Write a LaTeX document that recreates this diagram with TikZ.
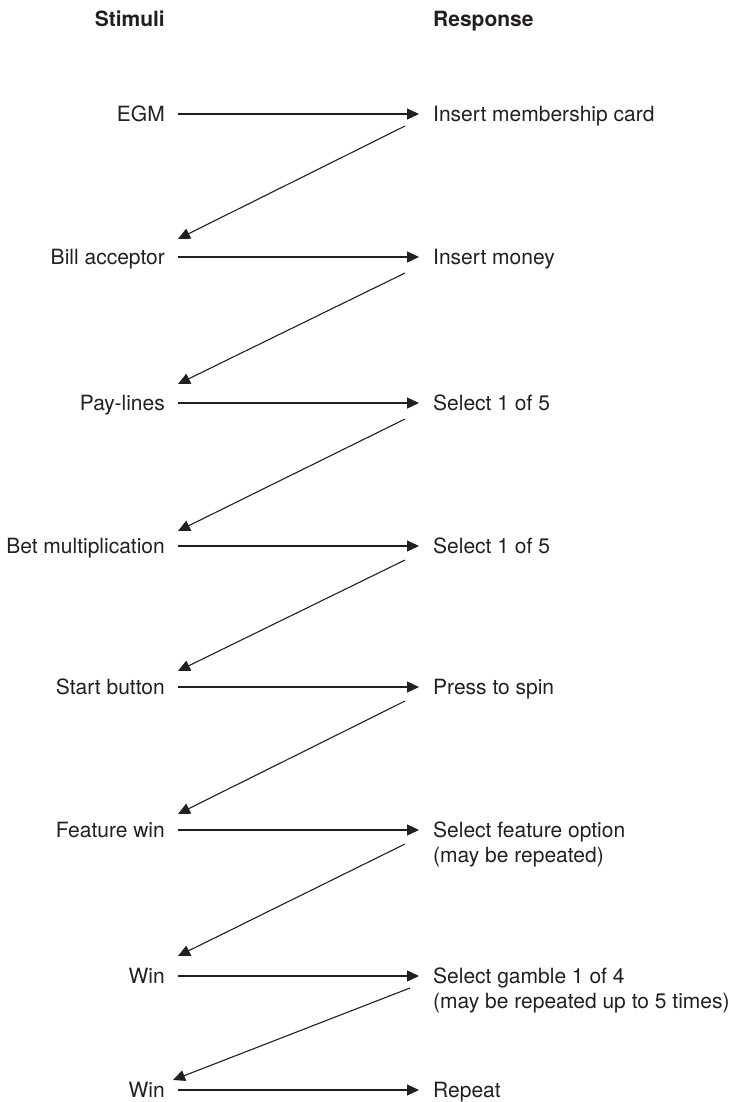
\documentclass[tikz,border=0pt]{standalone}
\usepackage{fontspec}
\setmainfont{TeX Gyre Heros}
\usetikzlibrary{arrows.meta,calc}
\definecolor{ink}{HTML}{231F20}
\tikzset{
  lbl/.style={font=\fontsize{21}{25}\selectfont, text=ink, inner ysep=0pt},
  stim/.style={lbl, anchor=east, inner xsep=13pt, text height=15pt, text depth=0pt},
  resp/.style={lbl, anchor=base west, inner xsep=14pt, align=left},
  head/.style={font=\fontsize{21}{25}\selectfont\bfseries},
  link/.style={draw=ink, line width=1.1pt, -{Triangle[length=12pt,width=11pt]}},
}
\begin{document}
\begin{tikzpicture}[x=1pt,y=1pt]
\useasboundingbox (0,0) rectangle (734,-1102);

% column headings
\node[stim, head] (hs) at (178,-19) {Stimuli};
\node[resp, head] (hr) at (419,-26.5) {Response};

% stimuli (right-aligned column)
\node[stim] (L1) at (178,-114)  {EGM};
\node[stim] (L2) at (178,-257)  {Bill acceptor};
\node[stim] (L3) at (178,-403)  {Pay-lines};
\node[stim] (L4) at (178,-546)  {Bet multiplication};
\node[stim] (L5) at (178,-687)  {Start button};
\node[stim] (L6) at (178,-830)  {Feature win};
\node[stim] (L7) at (178,-976)  {Win};
\node[stim] (L8) at (178,-1090) {Win};

% responses (left-aligned column; two-line entries sit on their last baseline)
\node[resp] (R1) at (419,-121.5)  {Insert membership card};
\node[resp] (R2) at (419,-264.5)  {Insert money};
\node[resp] (R3) at (419,-410.5)  {Select 1 of 5};
\node[resp] (R4) at (419,-553.5)  {Select 1 of 5};
\node[resp] (R5) at (419,-694.5)  {Press to spin};
\node[resp] (R6) at (419,-862.5)  {Select feature option\\(may be repeated)};
\node[resp] (R7) at (419,-1008.5) {Select gamble 1 of 4\\(may be repeated up to 5 times)};
\node[resp] (R8) at (419,-1097.5) {Repeat};

% stimulus -> response
\foreach \i in {1,...,8}
  \draw[link] (L\i.east) -- (L\i.east -| R\i.west);

% response -> next stimulus
\draw[link] ($(L1.east -| R1.west)+(-14,-12)$) -- ($(L2.east)+(0,18)$);
\draw[link] ($(L2.east -| R2.west)+(-14,-16)$) -- ($(L3.east)+(0,19)$);
\draw[link] ($(L3.east -| R3.west)+(-14,-16)$) -- ($(L4.east)+(0,15)$);
\draw[link] ($(L4.east -| R4.west)+(-14,-14)$) -- ($(L5.east)+(0,16)$);
\draw[link] ($(L5.east -| R5.west)+(-14,-14)$) -- ($(L6.east)+(0,16)$);
\draw[link] ($(L6.east -| R6.west)+(-14,-14)$) -- ($(L7.east)+(0,20)$);
\draw[link] ($(L7.east -| R7.west)+(-9,-12)$)  -- ($(L8.east)+(-5,10)$);
\end{tikzpicture}
\end{document}
